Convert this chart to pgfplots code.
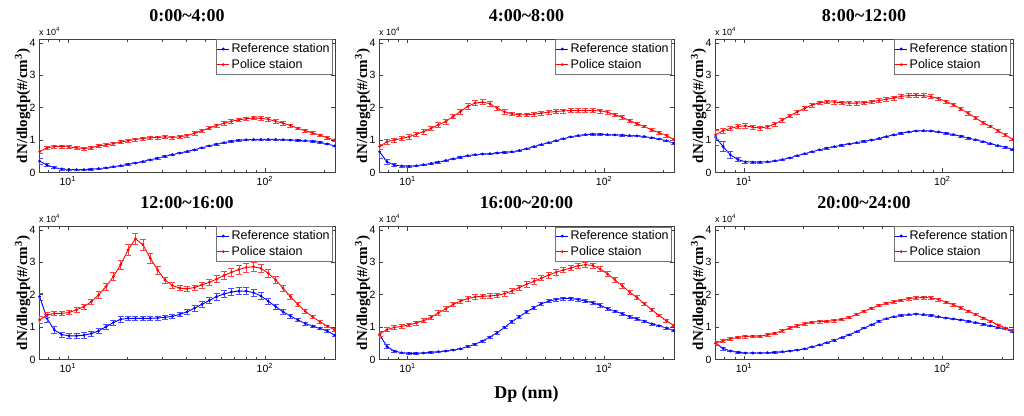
\documentclass[border=0pt]{standalone}
\usepackage{pgfplots}
\pgfplotsset{compat=1.18}
\usepackage{pgfplotstable}
\usepackage{fontspec}
\setmainfont{Liberation Serif}
\newfontfamily\arial{Liberation Sans}

\pgfplotstableread{
x r re b be
7.2 0.64 0.06 0.35 0.10
7.85 0.76 0.05 0.23 0.05
8.55 0.80 0.05 0.15 0.03
9.32 0.80 0.05 0.11 0.03
10.16 0.79 0.05 0.09 0.02
11.08 0.76 0.05 0.09 0.02
12.07 0.74 0.05 0.09 0.02
13.16 0.76 0.05 0.10 0.02
14.35 0.82 0.05 0.12 0.02
15.64 0.85 0.05 0.14 0.02
17.05 0.89 0.05 0.18 0.02
18.58 0.94 0.05 0.21 0.02
20.25 0.98 0.05 0.25 0.02
22.07 1.02 0.05 0.29 0.02
24.06 1.05 0.05 0.34 0.02
26.23 1.07 0.05 0.39 0.02
28.59 1.08 0.05 0.44 0.02
31.16 1.10 0.05 0.50 0.02
33.96 1.08 0.05 0.55 0.02
37.02 1.10 0.05 0.60 0.02
40.35 1.14 0.05 0.65 0.02
43.98 1.21 0.05 0.70 0.02
47.94 1.29 0.05 0.76 0.02
52.26 1.37 0.05 0.82 0.02
56.96 1.45 0.05 0.87 0.02
62.09 1.52 0.05 0.92 0.02
67.67 1.58 0.05 0.96 0.02
73.77 1.62 0.05 0.99 0.02
80.41 1.66 0.05 1.01 0.02
87.64 1.68 0.05 1.02 0.02
95.53 1.67 0.05 1.02 0.02
104.1 1.64 0.05 1.02 0.02
113.5 1.58 0.05 1.02 0.02
123.7 1.52 0.05 1.01 0.02
134.9 1.45 0.04 1.00 0.02
147.0 1.36 0.04 0.99 0.02
160.2 1.29 0.04 0.98 0.02
174.6 1.22 0.04 0.96 0.02
190.4 1.15 0.04 0.93 0.02
207.5 1.07 0.04 0.88 0.02
226.2 1.00 0.04 0.82 0.02
}\tA

\pgfplotstableread{
x r re b be
7.2 0.80 0.08 0.64 0.20
7.85 0.95 0.07 0.33 0.08
8.55 1.00 0.07 0.23 0.04
9.32 1.05 0.07 0.20 0.03
10.16 1.10 0.07 0.19 0.02
11.08 1.18 0.07 0.21 0.02
12.07 1.26 0.07 0.24 0.02
13.16 1.36 0.07 0.28 0.02
14.35 1.47 0.07 0.32 0.02
15.64 1.57 0.07 0.37 0.02
17.05 1.73 0.07 0.42 0.02
18.58 1.88 0.07 0.47 0.02
20.25 2.04 0.08 0.52 0.02
22.07 2.14 0.08 0.55 0.02
24.06 2.17 0.08 0.57 0.02
26.23 2.12 0.08 0.58 0.02
28.59 1.98 0.07 0.60 0.02
31.16 1.87 0.07 0.62 0.02
33.96 1.81 0.06 0.64 0.02
37.02 1.78 0.06 0.68 0.02
40.35 1.78 0.06 0.73 0.02
43.98 1.80 0.06 0.80 0.02
47.94 1.83 0.06 0.86 0.02
52.26 1.86 0.06 0.92 0.02
56.96 1.88 0.06 0.98 0.02
62.09 1.90 0.06 1.04 0.02
67.67 1.91 0.06 1.10 0.02
73.77 1.91 0.06 1.14 0.02
80.41 1.91 0.06 1.17 0.02
87.64 1.91 0.06 1.18 0.02
95.53 1.90 0.06 1.18 0.02
104.1 1.86 0.05 1.17 0.02
113.5 1.78 0.05 1.16 0.02
123.7 1.70 0.05 1.15 0.02
134.9 1.60 0.05 1.14 0.02
147.0 1.50 0.05 1.13 0.02
160.2 1.42 0.04 1.11 0.02
174.6 1.31 0.04 1.07 0.02
190.4 1.23 0.04 1.03 0.02
207.5 1.14 0.04 0.98 0.02
226.2 1.02 0.04 0.90 0.02
}\tB

\pgfplotstableread{
x r re b be
7.2 1.16 0.15 1.09 0.25
7.85 1.29 0.08 0.80 0.15
8.55 1.36 0.07 0.54 0.10
9.32 1.42 0.07 0.40 0.06
10.16 1.44 0.07 0.33 0.03
11.08 1.40 0.06 0.32 0.02
12.07 1.37 0.06 0.32 0.02
13.16 1.41 0.06 0.33 0.02
14.35 1.50 0.06 0.36 0.02
15.64 1.62 0.06 0.40 0.02
17.05 1.75 0.06 0.45 0.02
18.58 1.87 0.06 0.52 0.02
20.25 1.98 0.06 0.58 0.02
22.07 2.08 0.06 0.64 0.02
24.06 2.15 0.06 0.70 0.02
26.23 2.18 0.06 0.75 0.02
28.59 2.17 0.06 0.80 0.02
31.16 2.15 0.06 0.84 0.02
33.96 2.14 0.06 0.88 0.02
37.02 2.14 0.06 0.92 0.02
40.35 2.15 0.06 0.96 0.02
43.98 2.18 0.06 1.00 0.02
47.94 2.22 0.06 1.05 0.02
52.26 2.26 0.06 1.11 0.02
56.96 2.30 0.06 1.16 0.02
62.09 2.35 0.06 1.21 0.02
67.67 2.37 0.06 1.25 0.02
73.77 2.38 0.06 1.28 0.02
80.41 2.37 0.06 1.29 0.02
87.64 2.34 0.06 1.28 0.02
95.53 2.28 0.05 1.25 0.02
104.1 2.19 0.05 1.21 0.02
113.5 2.09 0.05 1.17 0.02
123.7 1.96 0.05 1.12 0.02
134.9 1.83 0.05 1.06 0.02
147.0 1.68 0.04 1.01 0.02
160.2 1.54 0.04 0.95 0.02
174.6 1.42 0.04 0.89 0.02
190.4 1.29 0.04 0.83 0.02
207.5 1.16 0.04 0.78 0.02
226.2 1.02 0.04 0.71 0.02
}\tC

\pgfplotstableread{
x r re b be
7.2 1.22 0.10 1.94 0.10
7.85 1.37 0.08 1.27 0.12
8.55 1.42 0.07 0.91 0.10
9.32 1.42 0.07 0.77 0.08
10.16 1.45 0.07 0.73 0.08
11.08 1.53 0.08 0.73 0.08
12.07 1.63 0.08 0.75 0.08
13.16 1.78 0.09 0.80 0.08
14.35 1.99 0.10 0.88 0.08
15.64 2.25 0.11 1.01 0.08
17.05 2.56 0.13 1.14 0.08
18.58 2.92 0.14 1.24 0.08
20.25 3.38 0.16 1.27 0.07
22.07 3.72 0.18 1.27 0.07
24.06 3.54 0.17 1.27 0.07
26.23 3.12 0.15 1.27 0.07
28.59 2.76 0.12 1.28 0.06
31.16 2.45 0.10 1.30 0.06
33.96 2.28 0.09 1.33 0.06
37.02 2.20 0.08 1.39 0.06
40.35 2.18 0.08 1.47 0.07
43.98 2.22 0.08 1.58 0.08
47.94 2.30 0.09 1.70 0.09
52.26 2.38 0.10 1.82 0.10
56.96 2.48 0.11 1.94 0.10
62.09 2.59 0.12 2.02 0.11
67.67 2.69 0.13 2.08 0.11
73.77 2.77 0.14 2.11 0.11
80.41 2.84 0.14 2.11 0.11
87.64 2.86 0.14 2.06 0.11
95.53 2.81 0.13 1.96 0.10
104.1 2.66 0.12 1.80 0.09
113.5 2.45 0.11 1.63 0.08
123.7 2.20 0.09 1.47 0.07
134.9 1.94 0.08 1.34 0.06
147.0 1.70 0.07 1.22 0.05
160.2 1.49 0.06 1.11 0.05
174.6 1.32 0.05 1.03 0.04
190.4 1.16 0.05 0.96 0.04
207.5 1.03 0.04 0.88 0.04
226.2 0.91 0.04 0.75 0.03
}\tD

\pgfplotstableread{
x r re b be
7.2 0.78 0.06 0.76 0.10
7.85 0.92 0.06 0.40 0.06
8.55 0.99 0.06 0.26 0.03
9.32 1.02 0.06 0.21 0.02
10.16 1.07 0.06 0.19 0.02
11.08 1.13 0.06 0.19 0.02
12.07 1.20 0.06 0.20 0.02
13.16 1.30 0.07 0.22 0.02
14.35 1.44 0.07 0.24 0.02
15.64 1.56 0.07 0.26 0.02
17.05 1.70 0.07 0.29 0.02
18.58 1.80 0.07 0.33 0.02
20.25 1.88 0.07 0.40 0.03
22.07 1.93 0.07 0.47 0.03
24.06 1.95 0.07 0.57 0.03
26.23 1.96 0.07 0.69 0.04
28.59 1.98 0.07 0.83 0.04
31.16 2.03 0.07 0.99 0.04
33.96 2.11 0.08 1.17 0.05
37.02 2.22 0.08 1.32 0.05
40.35 2.32 0.08 1.47 0.05
43.98 2.41 0.08 1.60 0.05
47.94 2.51 0.08 1.72 0.05
52.26 2.60 0.08 1.80 0.05
56.96 2.69 0.08 1.85 0.05
62.09 2.76 0.08 1.88 0.05
67.67 2.82 0.08 1.88 0.05
73.77 2.89 0.08 1.85 0.05
80.41 2.92 0.08 1.80 0.05
87.64 2.90 0.08 1.75 0.05
95.53 2.79 0.08 1.67 0.05
104.1 2.64 0.08 1.57 0.05
113.5 2.46 0.07 1.49 0.04
123.7 2.27 0.07 1.41 0.04
134.9 2.08 0.06 1.32 0.04
147.0 1.91 0.06 1.25 0.04
160.2 1.72 0.05 1.18 0.03
174.6 1.54 0.05 1.10 0.03
190.4 1.36 0.04 1.04 0.03
207.5 1.20 0.04 0.97 0.03
226.2 1.05 0.04 0.89 0.03
}\tE

\pgfplotstableread{
x r re b be
7.2 0.50 0.04 0.50 0.05
7.85 0.58 0.04 0.34 0.04
8.55 0.64 0.04 0.26 0.02
9.32 0.68 0.04 0.22 0.02
10.16 0.71 0.04 0.20 0.02
11.08 0.72 0.04 0.20 0.02
12.07 0.72 0.04 0.20 0.02
13.16 0.76 0.04 0.21 0.02
14.35 0.81 0.04 0.22 0.02
15.64 0.89 0.04 0.24 0.02
17.05 0.97 0.04 0.26 0.02
18.58 1.04 0.04 0.29 0.02
20.25 1.10 0.04 0.33 0.02
22.07 1.15 0.04 0.39 0.02
24.06 1.17 0.04 0.45 0.02
26.23 1.18 0.04 0.52 0.02
28.59 1.20 0.04 0.59 0.02
31.16 1.24 0.04 0.68 0.02
33.96 1.30 0.04 0.76 0.02
37.02 1.39 0.04 0.86 0.02
40.35 1.49 0.04 0.97 0.02
43.98 1.58 0.04 1.07 0.02
47.94 1.67 0.04 1.18 0.02
52.26 1.73 0.04 1.26 0.02
56.96 1.78 0.04 1.32 0.02
62.09 1.83 0.04 1.36 0.02
67.67 1.88 0.04 1.39 0.02
73.77 1.90 0.04 1.40 0.02
80.41 1.91 0.04 1.39 0.02
87.64 1.90 0.04 1.36 0.02
95.53 1.85 0.04 1.32 0.02
104.1 1.77 0.04 1.28 0.02
113.5 1.69 0.04 1.25 0.02
123.7 1.59 0.04 1.22 0.02
134.9 1.49 0.04 1.18 0.02
147.0 1.39 0.04 1.14 0.02
160.2 1.28 0.03 1.09 0.02
174.6 1.18 0.03 1.04 0.02
190.4 1.07 0.03 0.99 0.02
207.5 0.97 0.03 0.94 0.02
226.2 0.89 0.03 0.86 0.02
}\tF

\pgfplotsset{
  /pgf/number format/assume math mode=true,
  legend image code/.code={\draw[mark repeat=2,mark phase=2,#1] plot coordinates {(0pt,0pt) (6pt,0pt) (12pt,0pt)};},
  every axis/.append style={
    scale only axis, width=296pt, height=133pt, anchor=south west,
    clip mode=individual,
    xmin=7.15, xmax=227, ymin=0, ymax=4.1,
    xtick={10,100}, xticklabels={10\textsuperscript{1},10\textsuperscript{2}},
    minor xtick={8,9,20,30,40,50,60,70,80,90,200},
    ytick={0,1,2,3,4},
    tick align=inside, major tick length=4pt, minor tick length=2.5pt,
    ticklabel style={font=\arial\fontsize{10.5}{12}\selectfont},
    axis line style={black!75}, every tick/.style={black!75},
    title style={font=\bfseries\fontsize{18}{20}\selectfont, at={(0.5,1)}, anchor=base, yshift=12pt},
    ylabel={dN/dlogdp(\#/cm\textsuperscript{3})},
    ylabel style={font=\bfseries\fontsize{15}{17}\selectfont, at={(axis description cs:-0.04,0.5)}, anchor=base},
    legend style={at={(0.993,1)}, anchor=north east, font=\arial\fontsize{12.5}{14}\selectfont,
      inner xsep=1pt, inner ysep=2pt, row sep=1pt, draw=black!55, line width=0.5pt, cells={anchor=west}},
  },
  redp/.style={color=red, mark=*, mark size=0.9pt, line width=0.9pt,
    error bars/y dir=both, error bars/y explicit,
    error bars/error bar style={red!75, line width=0.5pt},
    error bars/error mark options={rotate=90, mark size=3pt, red!75, line width=0.5pt}},
  bluep/.style={color=blue, mark=*, mark size=0.9pt, line width=0.9pt,
    error bars/y dir=both, error bars/y explicit,
    error bars/error bar style={blue!70, line width=0.5pt},
    error bars/error mark options={rotate=90, mark size=3pt, blue!70, line width=0.5pt}},
}
\newcommand\xfour{\node[anchor=south west, font=\arial\fontsize{9}{10}\selectfont, inner sep=0pt] at (rel axis cs:0,1.03) {x 10\textsuperscript{4}};}

\begin{document}
\begin{tikzpicture}
\path[use as bounding box] (0pt,0pt) rectangle (1024pt,415pt);

\begin{semilogxaxis}[at={(39pt,242.5pt)}, title={0:00\char`~4:00}]
\addplot[bluep] table[x=x,y=b,y error=be]{\tA};
\addplot[redp] table[x=x,y=r,y error=re]{\tA};
\legend{Reference station,Police staion}
\xfour
\end{semilogxaxis}

\begin{semilogxaxis}[at={(379pt,242.5pt)}, width=295pt, title={4:00\char`~8:00}]
\addplot[bluep] table[x=x,y=b,y error=be]{\tB};
\addplot[redp] table[x=x,y=r,y error=re]{\tB};
\legend{Reference station,Police staion}
\xfour
\end{semilogxaxis}

\begin{semilogxaxis}[at={(715pt,242.5pt)}, width=298pt, title={8:00\char`~12:00}]
\addplot[bluep] table[x=x,y=b,y error=be]{\tC};
\addplot[redp] table[x=x,y=r,y error=re]{\tC};
\legend{Reference station,Police staion}
\xfour
\end{semilogxaxis}

\begin{semilogxaxis}[at={(39pt,55.5pt)}, title={12:00\char`~16:00}]
\addplot[bluep] table[x=x,y=b,y error=be]{\tD};
\addplot[redp] table[x=x,y=r,y error=re]{\tD};
\legend{Reference station,Police staion}
\xfour
\end{semilogxaxis}

\begin{semilogxaxis}[at={(379pt,55.5pt)}, width=295pt, title={16:00\char`~20:00},
  xlabel={Dp (nm)},
  xlabel style={font=\bfseries\fontsize{18}{20}\selectfont, at={(axis description cs:0.5,0)}, anchor=base, yshift=-39pt}]
\addplot[bluep] table[x=x,y=b,y error=be]{\tE};
\addplot[redp] table[x=x,y=r,y error=re]{\tE};
\legend{Reference station,Police staion}
\xfour
\end{semilogxaxis}

\begin{semilogxaxis}[at={(715pt,55.5pt)}, width=298pt, title={20:00\char`~24:00}]
\addplot[bluep] table[x=x,y=b,y error=be]{\tF};
\addplot[redp] table[x=x,y=r,y error=re]{\tF};
\legend{Reference station,Police staion}
\xfour
\end{semilogxaxis}
\end{tikzpicture}
\end{document}
